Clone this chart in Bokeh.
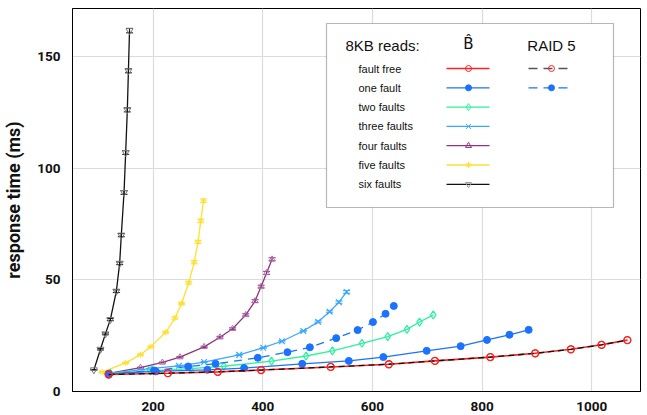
from bokeh.plotting import figure
from bokeh.models import (Range1d, ColumnDataSource, Whisker, TeeHead, Label,
                          BoxAnnotation, FixedTicker)
from bokeh.embed import file_html
from bokeh.resources import INLINE

# Throughput (x) vs. response time in ms (y) for 8KB reads
ff_x = [119, 227, 318, 397, 524, 630, 714, 815, 897, 962, 1018, 1065]
ff_y = [7.6, 8.2, 8.8, 9.6, 11.0, 12.2, 13.7, 15.4, 17.1, 18.9, 20.9, 23.0]

one_x = [119, 205, 299, 366, 472, 557, 620, 699, 761, 809, 850, 885]
one_y = [7.9, 9.0, 9.7, 10.5, 12.4, 13.7, 15.4, 18.2, 20.3, 23.1, 25.4, 27.6]

two_x = [122, 195, 268, 329, 416, 479, 527, 581, 628, 663, 686, 711]
two_y = [8.3, 9.2, 10.2, 11.3, 13.6, 15.9, 18.2, 21.6, 24.6, 27.8, 31.1, 34.3]

three_x = [119, 194, 247, 293, 357, 401, 435, 474, 501, 522, 539, 553]
three_y = [8.0, 10.2, 11.5, 13.2, 16.4, 19.6, 22.5, 27.1, 31.2, 35.7, 40.0, 44.6]
three_err = [0.1, 0.1, 0.1, 0.2, 0.2, 0.2, 0.3, 0.3, 0.4, 0.4, 0.5, 0.6]

four_x = [122, 177, 217, 249, 293, 322, 345, 369, 386, 397, 407, 417]
four_y = [8.2, 10.7, 13.0, 15.4, 20.0, 24.3, 28.1, 34.3, 40.5, 47.0, 53.1, 59.2]
four_err = [0.1, 0.2, 0.2, 0.3, 0.3, 0.4, 0.4, 0.5, 0.6, 0.6, 0.7, 0.7]

five_x = [107, 150, 177, 196, 223, 240, 252, 265, 275, 282, 287, 292]
five_y = [8.7, 12.8, 16.5, 20.1, 26.5, 32.9, 39.4, 48.7, 57.9, 67.0, 76.4, 85.4]
five_err = [0.1, 0.2, 0.3, 0.3, 0.4, 0.5, 0.5, 0.6, 0.7, 0.7, 0.8, 0.8]

six_x = [92, 104, 113, 122, 133, 139, 142, 147, 150, 153, 155, 157]
six_y = [9.7, 18.9, 25.8, 32.2, 44.9, 57.4, 70.0, 89.1, 107.0, 126.1, 143.6, 161.6]
six_err = [0.1, 0.3, 0.4, 0.5, 0.6, 0.6, 0.7, 0.8, 0.8, 0.9, 0.9, 1.0]

raid_ff_x = [119, 227, 318, 397, 524, 630, 714, 815, 897, 962, 1018, 1065]
raid_ff_y = [7.6, 8.2, 8.8, 9.6, 11.0, 12.2, 13.7, 15.4, 17.1, 18.9, 20.9, 23.0]

raid_one_x = [119, 202, 264, 314, 391, 445, 486, 534, 573, 601, 624, 639]
raid_one_y = [7.9, 9.4, 11.2, 12.4, 15.1, 17.6, 19.8, 23.9, 27.5, 31.1, 34.8, 38.3]

x_ticks = [200, 400, 600, 800, 1000]
y_ticks = [0, 50, 100, 150]

row_labels = ["fault free", "one fault", "two faults", "three faults",
              "four faults", "five faults", "six faults"]

RED = "#ff2020"
BLUE = "#1a72ff"
GREEN = "#2cf29a"
LBLUE = "#3aa8ff"
PURPLE = "#8c3580"
YELLOW = "#ffe033"
BLACK = "#111111"

AXIS_FONT = "Roboto"
TEXT_FONT = "Liberation Sans"

W, H = 647, 415
ML, MR, MT, MB = 72, 7, 8, 24
FW, FH = W - ML - MR, H - MT - MB

p = figure(width=W, height=H, x_range=Range1d(53, 1089), y_range=Range1d(0, 171.5),
           output_backend="svg", toolbar_location=None,
           min_border_left=ML, min_border_right=MR, min_border_top=MT, min_border_bottom=MB)
p.background_fill_color = "white"
p.border_fill_color = "white"
p.outline_line_color = "black"
p.outline_line_width = 1

p.xaxis.ticker = FixedTicker(ticks=x_ticks)
p.yaxis.ticker = FixedTicker(ticks=y_ticks)
for ax in (p.xaxis[0], p.yaxis[0]):
    ax.major_tick_line_color = None
    ax.minor_tick_line_color = None
    ax.axis_line_color = "black"
    ax.major_label_text_font = AXIS_FONT
    ax.major_label_text_font_style = "bold"
    ax.major_label_text_font_size = "13.5px"
    ax.major_label_text_color = "#111111"
p.xaxis.major_label_standoff = 4
p.yaxis.major_label_standoff = 6
p.yaxis.axis_label = "response time (ms)"
p.yaxis.axis_label_text_font = AXIS_FONT
p.yaxis.axis_label_text_font_style = "bold"
p.yaxis.axis_label_text_font_size = "18px"
p.yaxis.axis_label_text_color = "#111111"
p.yaxis.axis_label_standoff = 10
p.grid.grid_line_color = "#dcdcdc"
p.grid.grid_line_width = 1.2

def whiskers(xs, ys, errs, color):
    src = ColumnDataSource(dict(x=xs, lo=[y - e for y, e in zip(ys, errs)],
                                hi=[y + e for y, e in zip(ys, errs)]))
    w = Whisker(source=src, base="x", lower="lo", upper="hi", dimension="height",
                line_color=color, line_width=1,
                upper_head=TeeHead(size=7, line_color=color, line_width=1),
                lower_head=TeeHead(size=7, line_color=color, line_width=1))
    p.add_layout(w)

# B-hat curves
p.line(six_x, six_y, line_color=BLACK, line_width=1.3)
p.scatter(six_x, six_y, marker="inverted_triangle", size=7, line_color="#777777",
          fill_color=None)
whiskers(six_x, six_y, six_err, BLACK)

p.line(five_x, five_y, line_color=YELLOW, line_width=1.3)
p.scatter(five_x, five_y, marker="asterisk", size=6, line_color=YELLOW)
whiskers(five_x, five_y, five_err, YELLOW)

p.line(four_x, four_y, line_color=PURPLE, line_width=1.3)
p.scatter(four_x, four_y, marker="triangle", size=6, line_color="#b070a8", fill_color=None)
whiskers(four_x, four_y, four_err, PURPLE)

p.line(three_x, three_y, line_color=LBLUE, line_width=1.3)
p.scatter(three_x, three_y, marker="x", size=8, line_color=LBLUE, line_width=1.2)
whiskers(three_x, three_y, three_err, LBLUE)

p.line(two_x, two_y, line_color=GREEN, line_width=1.3)
p.scatter(two_x, two_y, marker="diamond", size=8, line_color=GREEN, fill_color=None,
          line_width=1.2)

# RAID 5, one fault
p.line(raid_one_x, raid_one_y, line_color=BLUE, line_width=1.3, line_dash="8 6")
p.scatter(raid_one_x, raid_one_y, marker="circle", size=7, line_color=BLUE, fill_color=BLUE)

p.line(one_x, one_y, line_color=BLUE, line_width=1.3)
p.scatter(one_x, one_y, marker="circle", size=7, line_color=BLUE, fill_color=BLUE)

p.line(ff_x, ff_y, line_color=RED, line_width=1.6)
# RAID 5, fault free
p.line(raid_ff_x, raid_ff_y, line_color=BLACK, line_width=1.3, line_dash="6 4")
p.scatter(ff_x, ff_y, marker="circle", size=7, line_color=RED, fill_color=None,
          line_width=1.3)
p.scatter(raid_ff_x, raid_ff_y, marker="circle", size=7, line_color=RED, fill_color=None,
          line_width=1.0)

# Legend, laid out in frame pixel coordinates
p.extra_x_ranges = {"fx": Range1d(0, FW)}
p.extra_y_ranges = {"fy": Range1d(0, FH)}
R = dict(x_range_name="fx", y_range_name="fy")

box_l, box_r, box_b, box_t = 254, 541, 184, 368
p.add_layout(BoxAnnotation(left=box_l, right=box_r, bottom=box_b, top=box_t,
                           fill_color="white", fill_alpha=1.0, line_color="#111111",
                           line_width=1.2, **R))

title_y = 346
p.add_layout(Label(x=273, y=title_y, text="8KB reads:", text_font=TEXT_FONT,
                   text_font_size="15px", text_baseline="middle", text_color="#111111",
                   level="overlay", **R))
p.add_layout(Label(x=396, y=title_y + 2, text="B\u0302", text_font="DejaVu Sans",
                   text_font_size="15px", text_baseline="middle", text_align="center",
                   text_color="#111111", level="overlay", **R))
p.add_layout(Label(x=479, y=title_y, text="RAID 5", text_font=TEXT_FONT,
                   text_font_size="15px", text_baseline="middle", text_align="center",
                   text_color="#111111", level="overlay", **R))

row_y0, row_step = 323, 19.3
b_l, b_r, b_m = 374, 417, 396
r_l, r_r, r_m = 456, 498, 479
styles = [
    (RED, "circle", None, 6),
    (BLUE, "circle", BLUE, 6),
    (GREEN, "diamond", None, 7),
    (LBLUE, "x", None, 7),
    (PURPLE, "triangle", None, 6),
    (YELLOW, "asterisk", None, 6),
    (BLACK, "inverted_triangle", None, 6),
]
for i, (lab, (col, mk, fc, sz)) in enumerate(zip(row_labels, styles)):
    yy = row_y0 - i * row_step
    p.add_layout(Label(x=286, y=yy, text=lab, text_font=TEXT_FONT,
                       text_font_size="11px", text_baseline="middle",
                       text_color="#111111", level="overlay", **R))
    p.line([b_l, b_r], [yy, yy], line_color=col, line_width=1.3, level="overlay", **R)
    mcol = "#999999" if mk == "inverted_triangle" else col
    p.scatter([b_m], [yy], marker=mk, size=sz, line_color=mcol, fill_color=fc,
              level="overlay", **R)

# RAID 5 legend entries
for i, (col, dcol, fc) in enumerate([(RED, "#555555", None), (BLUE, BLUE, BLUE)]):
    yy = row_y0 - i * row_step
    p.line([r_l, r_r], [yy, yy], line_color=dcol, line_width=1.3, line_dash="9 6",
           level="overlay", **R)
    p.scatter([r_m], [yy], marker="circle", size=6, line_color=col, fill_color=fc,
              level="overlay", **R)

open("out.html", "w").write(file_html(p, INLINE))
